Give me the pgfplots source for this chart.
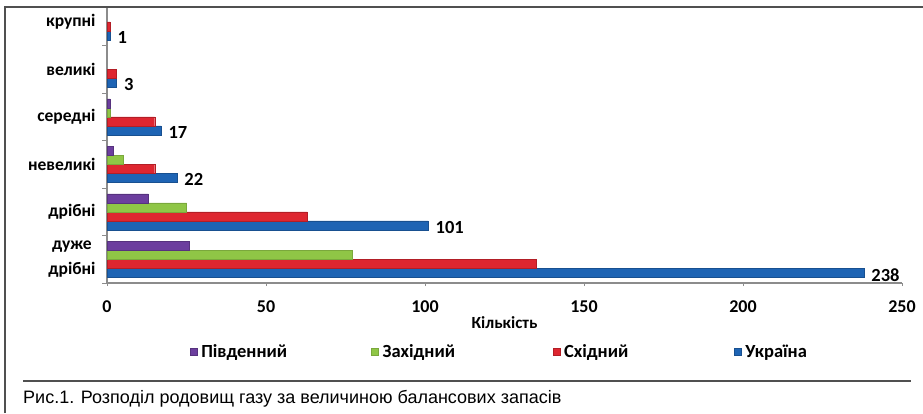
\documentclass[border=0pt]{standalone}
\usepackage{pgfplots}
\pgfplotsset{compat=1.18}
\usepackage{fontspec}
\setmainfont{Carlito}
\newfontfamily\capfont{Liberation Sans}
\definecolor{cPurple}{RGB}{108,62,158}
\definecolor{cGreen}{RGB}{143,198,70}
\definecolor{cRed}{RGB}{222,38,48}
\definecolor{cBlue}{RGB}{30,100,180}
\definecolor{axgray}{RGB}{140,140,140}
\definecolor{frgray}{RGB}{80,80,80}
\begin{document}
\begin{tikzpicture}[x=1pt,y=1pt]
\useasboundingbox (0,0) rectangle (923,413);
\begin{scope}
\clip (0,0) rectangle (923,405.5);
\begin{axis}[
  at={(107pt,130pt)}, anchor=south west,
  scale only axis, width=795pt, height=285pt,
  xbar=0pt, bar width=9pt,
  xmin=0, xmax=250, ymin=-0.5, ymax=5.5,
  enlarge y limits=false,
  axis x line=bottom, axis y line=left,
  axis line style={-, draw=axgray, line width=1.2pt},
  xtick={0,50,100,150,200,250},
  ytick={0,1,2,3,4,5},
  yticklabels={{дуже\\дрібні},дрібні,невеликі,середні,великі,крупні},
  minor ytick={-0.5,0.5,1.5,2.5,3.5,4.5},
  major y tick style={draw=none},
  minor y tick style={draw=axgray, line width=0.8pt},
  minor tick length=5pt,
  x tick style={draw=axgray, line width=0.8pt},
  major tick length=3pt,
  tick align=outside,
  /pgf/number format/assume math mode=true,
  xticklabel style={font=\bfseries\fontsize{18}{20}\selectfont, anchor=center, yshift=-21pt},
  yticklabel style={font=\bfseries\fontsize{17.5}{25}\selectfont, align=center, anchor=east, xshift=-5pt},
  xlabel={Кількість},
  xlabel style={font=\bfseries\fontsize{17}{20}\selectfont, at={(axis description cs:0.5,-0.14)}, anchor=center},
  legend columns=4,
  legend style={draw=none, fill=none, at={(axis description cs:0.104,-0.242)}, anchor=west,
    font=\bfseries\fontsize{18.5}{21}\selectfont, inner sep=0pt,
    /tikz/every even column/.append style={column sep=0pt},
    nodes={text width=166pt, align=left, inner xsep=4pt}},
  legend image code/.code={\draw[#1] (0pt,-3.5pt) rectangle (7pt,3.5pt);},
  reverse legend,
]
\addplot[draw=cBlue!80!black, fill=cBlue, line width=0.4pt,
  nodes near coords, every node near coord/.append style={font=\bfseries\fontsize{18.5}{20}\selectfont, black, anchor=west, xshift=4pt, yshift=-2pt}]
  coordinates {(238,0) (101,1) (22,2) (17,3) (3,4) (1,5)};
\addplot[draw=cRed!80!black, fill=cRed, line width=0.4pt]
  coordinates {(135,0) (63,1) (15,2) (15,3) (3,4) (1,5)};
\addplot[draw=cGreen!85!black, fill=cGreen, line width=0.4pt]
  coordinates {(77,0) (25,1) (5,2) (1,3)};
\addplot[draw=cPurple!80!black, fill=cPurple, line width=0.4pt]
  coordinates {(26,0) (13,1) (2,2) (1,3)};
\legend{Україна,Східний,Західний,Південний}
\end{axis}
\end{scope}
\draw[line width=2pt, frgray] (5,0) -- (5,405.5) -- (923,405.5);
\draw[line width=1.5pt, frgray] (23,32) -- (911,32);
\node[anchor=base west, inner sep=0pt, font=\capfont\fontsize{18}{21}\selectfont] at (23,10) {Рис.1. Розподіл родовищ газу за величиною балансових запасів};
\end{tikzpicture}
\end{document}
